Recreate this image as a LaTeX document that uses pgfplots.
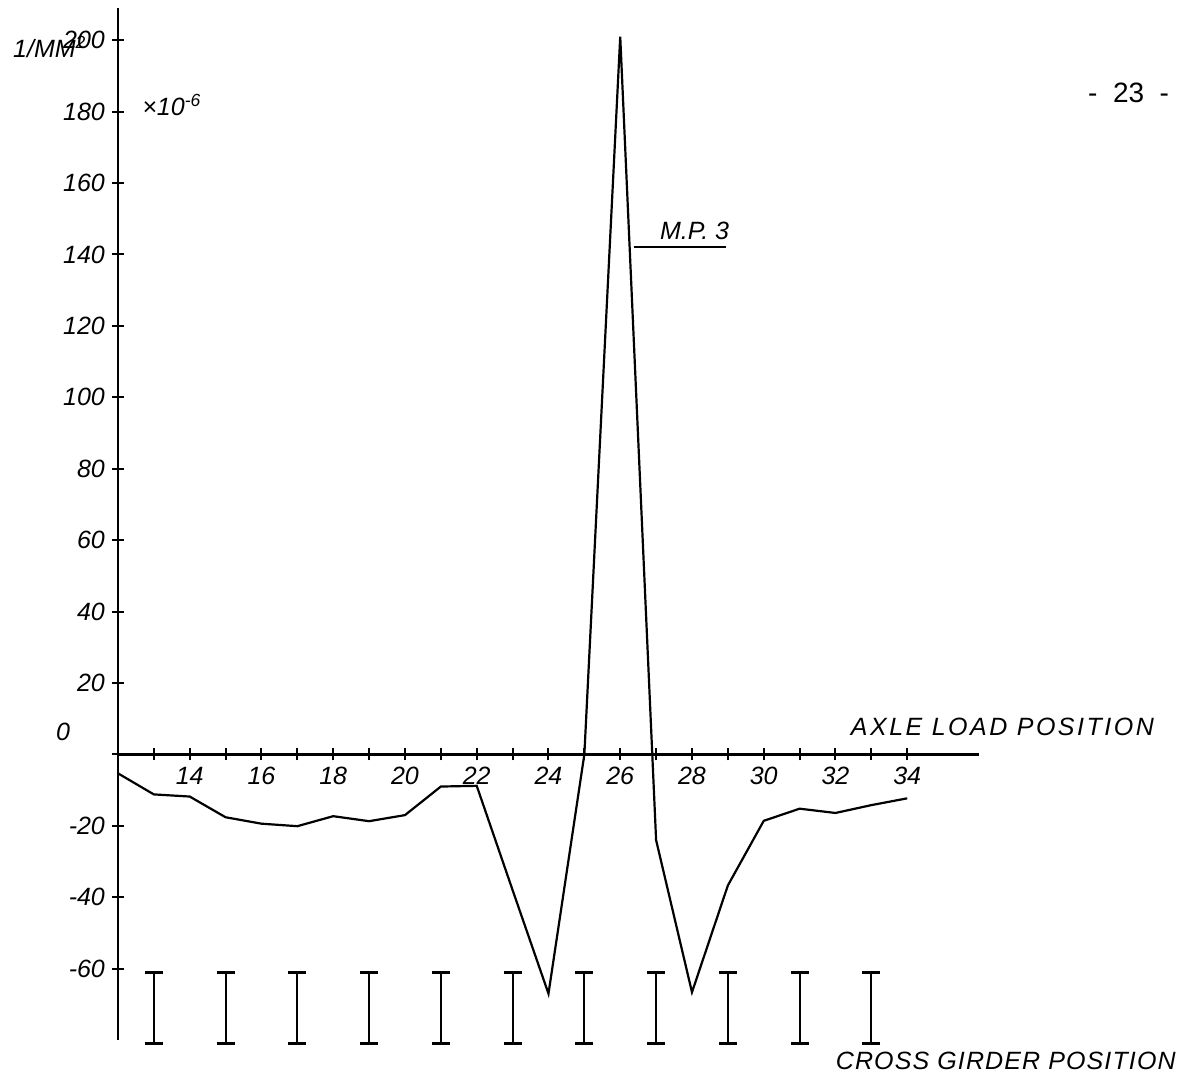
\documentclass[border=0pt]{standalone}
\usepackage{fontspec}
\setmainfont{Liberation Sans}
\newfontfamily\lblfont{Liberation Sans}[LetterSpace=10]
\newfontfamily\lblfontb{Liberation Sans}[LetterSpace=4.5]
\usepackage{pgfplots}
\pgfplotsset{compat=1.18}

\begin{document}
\begin{tikzpicture}
\begin{axis}[
    scale only axis,
    width=430.5pt, height=516pt,
    xmin=12, xmax=36,
    ymin=-80, ymax=209,
    axis x line=middle,
    axis y line=left,
    axis line style={-, line width=1.3pt},
    xtick={14,16,...,34},
    minor xtick={13,15,...,33},
    ytick={-60,-40,-20,0,20,40,60,80,100,120,140,160,180,200},
    yticklabels={-60,-40,-20,{},20,40,60,80,100,120,140,160,180,200},
    tick align=center,
    major tick length=6pt,
    minor tick length=6pt,
    every tick/.style={black, line width=1pt},
    tick label style={font=\fontsize{12.5}{14}\selectfont\itshape},
    /pgf/number format/assume math mode=true,
    clip=false,
]
% measured curve
\addplot[black, line width=1.1pt, mark=none] coordinates {
  (12,-5.3) (13,-11.2) (14,-11.8) (15,-17.6) (16,-19.4) (17,-20.1)
  (18,-17.3) (19,-18.7) (20,-17.0) (21,-9.0) (22,-8.8) (23,-38.0)
  (24,-67.0) (25,0.0) (26,201.0) (27,-24.0) (28,-66.6) (29,-36.7)
  (30,-18.6) (31,-15.2) (32,-16.4) (33,-14.2) (34,-12.3)
};
% cross girders
\addplot[draw=none, mark=none, forget plot,
  error bars/.cd, y dir=both, y explicit,
  error bar style={draw=black, line width=1pt, solid},
  error mark options={draw=black, line width=1.3pt, mark size=4.5pt, rotate=90}]
  coordinates {
  (13,-71) +- (0,10) (15,-71) +- (0,10) (17,-71) +- (0,10)
  (19,-71) +- (0,10) (21,-71) +- (0,10) (23,-71) +- (0,10)
  (25,-71) +- (0,10) (27,-71) +- (0,10) (29,-71) +- (0,10)
  (31,-71) +- (0,10) (33,-71) +- (0,10)
};
\node[font=\fontsize{12.5}{14}\selectfont\itshape] at (axis cs:10.47,6.4) {0};
\node[font=\fontsize{12.5}{14}\selectfont\itshape, anchor=center] at (axis cs:10.1,198) {1/MM\textsuperscript{2}};
\node[font=\fontsize{12.5}{14}\selectfont\itshape, anchor=base west, inner sep=0pt] at (axis cs:12.67,179) {×10\textsuperscript{-6}};
\node[font=\fontsize{12.5}{14}\selectfont\itshape, anchor=base west, inner sep=0pt] at (axis cs:27.1,144.2) {M.P.\ 3};
\draw[black, line width=1pt] (axis cs:26.37,142) -- (axis cs:28.96,142);
\node[font=\lblfont\fontsize{12.5}{14}\selectfont\itshape, anchor=base west, inner sep=0pt] at (axis cs:32.42,5.3) {AXLE LOAD POSITION};
\node[font=\lblfontb\fontsize{12.5}{14}\selectfont\itshape, anchor=base west, inner sep=0pt] at (axis cs:32.0,-88.2) {CROSS GIRDER POSITION};
\node[font=\fontsize{14}{16}\selectfont, anchor=base, inner sep=0pt] at (axis cs:40.17,182.6) {-\ \ 23\ \ -};
\coordinate (bbsw) at (rel axis cs:-0.1370,-0.0378);
\coordinate (bbne) at (rel axis cs:1.2381,1.0078);
\end{axis}
\pgfresetboundingbox
\path[use as bounding box] (bbsw) rectangle (bbne);
\end{tikzpicture}
\end{document}
